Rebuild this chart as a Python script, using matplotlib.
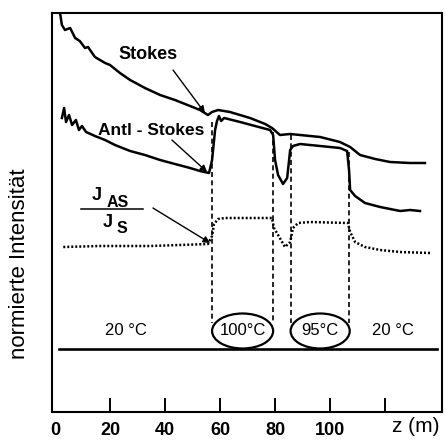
import matplotlib
matplotlib.use("Agg")
import matplotlib.pyplot as plt
from matplotlib.patches import Ellipse

plt.rcParams['font.family'] = ['Liberation Sans', 'DejaVu Sans']

# Ortskoordinate z (m) und normierte Intensitaeten (willkuerliche Einheiten)
z_stokes = [1.5, 2.5, 3.6, 5.5, 7.3, 9.0, 10.9, 12.0, 14.5, 18.2, 20.0, 23.6, 27.3, 32.7,
            38.2, 43.6, 49.1, 52.7, 55.6, 57.1, 59.3, 63.6, 70.9, 76.4, 78.9, 81.8,
            85.5, 89.1, 96.4, 103.6, 107.3, 110.9, 116.4, 121.8, 129.1, 134.5]
i_stokes = [405, 387, 382, 384, 374, 371, 364, 365, 355, 349, 347, 339, 332, 324,
            317, 312, 306, 302, 297, 300, 302, 300, 294, 288, 284, 277,
            278, 277, 275, 270, 265, 257, 253, 250, 249, 249]

z_anti = [2.5, 3.3, 4.0, 5.1, 6.2, 7.6, 8.7, 9.8, 11.3, 14.5, 18.2, 21.8, 27.3, 32.7,
          38.2, 43.6, 49.1, 52.7, 56.0, 57.1, 58.2, 58.9, 59.6, 60.4, 61.5, 67.3,
          72.7, 78.2, 79.3, 80.0, 81.1, 82.9, 84.4, 85.5, 86.5, 89.1, 96.4, 103.6,
          106.2, 106.9, 107.3, 109.1, 112.7, 118.2, 125.5, 129.1, 132.7]
i_anti = [294, 304, 290, 297, 287, 292, 282, 286, 280, 276, 272, 267, 261, 257,
          252, 248, 244, 241, 239, 252, 282, 291, 296, 291, 294, 290,
          286, 282, 277, 252, 237, 228, 234, 262, 266, 268, 266, 264,
          261, 242, 222, 216, 209, 205, 201, 202, 201]

z_ratio = [3.0, 16.4, 34.5, 45.5, 55.6, 57.1, 57.8, 59.3, 61.8, 78.9, 79.6, 81.1,
           83.6, 85.5, 86.5, 88.4, 92.7, 106.5, 107.3, 109.1, 112.7, 118.2, 125.5, 136.4]
i_ratio = [165, 166, 166, 167, 168, 176, 188, 193, 194, 194, 184, 177,
           165, 170, 184, 189, 190, 189, 180, 170, 165, 162, 160, 159]

# Grenzen der beheizten Abschnitte
z_grenzen = [57.1, 79.3, 85.8, 106.9]
i_grenzen = [290, 280, 277, 260]

tick_pos = [20, 40, 60, 80, 100, 120]
tick_lab = ['20', '40', '60', '80', '100', '']

fig = plt.figure(figsize=(4.46, 4.40), dpi=100)
ax = fig.add_axes([52/446, 28/440, 390/446, 399/440])

ax.plot(z_stokes, i_stokes, color='k', lw=1.8)
ax.plot(z_anti, i_anti, color='k', lw=1.8)
ax.plot(z_ratio, i_ratio, color='k', lw=1.8, linestyle=(0, (0.8, 0.8)))

for zg, ig in zip(z_grenzen, i_grenzen):
    ax.plot([zg, zg], [ig, 89], color='k', lw=1.2, linestyle=(0, (3, 2)))

# Faser und Temperaturzonen
ax.plot([1.5, 138.9], [63, 63], color='k', lw=1.9)
ax.add_patch(Ellipse((68.2, 81), 22.2, 35, fill=False, lw=1.6, color='k'))
ax.add_patch(Ellipse((96.4, 81), 21.5, 35, fill=False, lw=1.6, color='k'))
ax.text(68.2, 82, '100°C', ha='center', va='center', fontsize=12)
ax.text(96.4, 82, '95°C', ha='center', va='center', fontsize=12)
ax.text(25.8, 82, '20 °C', ha='center', va='center', fontsize=12)
ax.text(122.9, 82, '20 °C', ha='center', va='center', fontsize=12)

arrow = dict(arrowstyle='-|>', color='k', lw=1.0, mutation_scale=10, shrinkA=0, shrinkB=0)
ax.text(33.8, 358, 'Stokes', ha='center', va='center', fontsize=13, fontweight='bold')
ax.annotate('', xy=(54.5, 299), xytext=(42.9, 342), arrowprops=arrow)
ax.text(34.9, 282, 'Antl - Stokes', ha='center', va='center', fontsize=12.5, fontweight='bold')
ax.annotate('', xy=(55.3, 240), xytext=(42.5, 272), arrowprops=arrow)

# Bruch J_AS / J_S
ax.text(15.3, 217, 'J', ha='center', va='center', fontsize=13, fontweight='bold')
ax.text(22.9, 210, 'AS', ha='center', va='center', fontsize=11.5, fontweight='bold')
ax.plot([9.5, 32.0], [203, 203], color='k', lw=1.1)
ax.text(19.3, 190, 'J', ha='center', va='center', fontsize=13, fontweight='bold')
ax.text(24.4, 184, 'S', ha='center', va='center', fontsize=11.5, fontweight='bold')
ax.annotate('', xy=(56.4, 169), xytext=(35.6, 204), arrowprops=arrow)

ax.set_xlim(-1.1, 140.7)
ax.set_ylim(0, 399)
ax.set_xticks(tick_pos)
ax.set_xticklabels(tick_lab, fontsize=13, fontweight='bold')
ax.tick_params(axis='x', direction='in', length=10, width=1.4, pad=7)
ax.set_yticks([])
for s in ax.spines.values():
    s.set_linewidth(1.5)

ax.text(0, -10, '0', ha='center', va='top', fontsize=13, fontweight='bold')
ax.text(131.3, -5, 'z (m)', ha='center', va='top', fontsize=15)
fig.text(20/446, 1 - 264/440, 'normierte Intensität', rotation=90,
         ha='center', va='center', fontsize=16)

fig.savefig('out.png', dpi=100)
